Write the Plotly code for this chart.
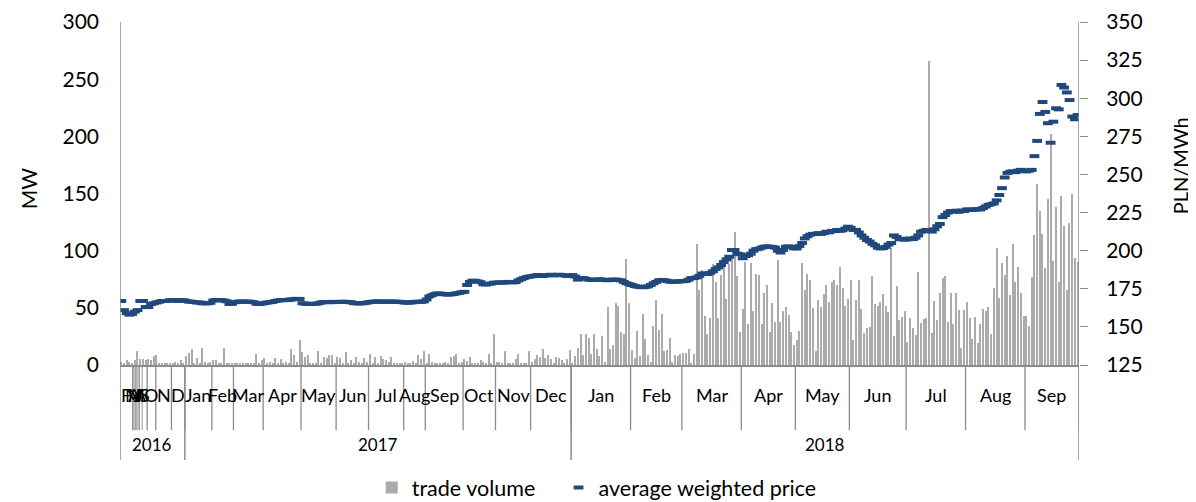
import plotly.graph_objects as go

# ---------------- data ----------------
years = ["2016", "2017", "2018"]

months_2016 = ["F", "M", "A", "M", "J", "J", "A", "S", "O", "N", "D"]
month_slots_2016 = [4.7, 0.5, 0.5, 0.5, 0.5, 0.5, 1.0, 1.85, 3.2, 5.8, 4.95]
vol_2016 = [3, 2, 4, 3, 2, 4, 12, 5, 5, 4, 5, 4, 8, 9, 2, 2, 1, 2, 1, 2, 3, 2, 4, 2]
price_2016 = [167, 161, 159, 158, 158.5, 160, 161, 167, 167, 163, 163, 165, 165.5, 166,
              166.5, 167, 167, 167, 167.5, 167.5, 167.5, 167, 167.5, 167.5]

months_2017 = ["Jan", "Feb", "Mar", "Apr", "May", "Jun", "Jul", "Aug", "Sep", "Oct", "Nov", "Dec"]
vol_2017 = [
    [8, 10.5, 14, 2, 6, 2, 15, 3, 2, 3],
    [4, 4, 2, 1, 15, 1, 1.5, 2],
    [1, 1, 1, 2, 1.5, 2, 2, 1, 10, 2, 4],
    [6, 1, 3, 1, 6, 2, 5, 1, 3, 1, 14, 9, 3, 22],
    [11, 7, 9, 1, 1, 1, 12, 1, 7, 6, 9, 9, 2],
    [7, 6, 1, 11, 2, 4, 1, 7, 3, 2, 6, 3],
    [10, 2, 7, 1, 8, 5, 4, 3, 7, 1.5, 1, 2, 1],
    [3, 1.5, 1, 3.8, 1, 9, 5, 12],
    [1, 10, 3, 1, 2, 1, 2, 3, 1.5, 7, 8, 10, 1, 2.3],
    [5, 3.5, 7, 1, 1.2, 1.2, 4, 3, 1, 10, 1.2, 27],
    [3, 3, 1, 12, 1.2, 1.2, 1, 5, 10, 1.8, 1, 1.8, 12],
    [2.3, 5, 8.7, 7.3, 14, 5.8, 9, 5, 1.2, 7, 5.8, 4.4, 1.2, 5, 13],
]
price_2017 = [
    [167, 166.6, 166.5, 166.3, 166, 166, 165.5, 165.5, 165.5, 165.8],
    [167.3, 167.6, 167.6, 167.5, 167.3, 166.8, 165, 165.2],
    [166.2, 166.5, 166.6, 166.6, 166.5, 166.6, 166.4, 166.2, 165.2, 165, 165.3],
    [165.6, 166, 166.2, 166.4, 167, 167.3, 167.5, 167.6, 167.6, 167.8, 168, 168.2, 168.4, 168.3],
    [165.5, 165.3, 165, 165, 165.1, 165.2, 165.5, 166, 166.3, 166.3, 166.2, 166.4, 166.3],
    [166.3, 166.4, 166.5, 166.4, 166.3, 166.2, 165.6, 165.5, 165.4, 165.5, 165.6, 166],
    [166.3, 166.5, 166.6, 166.7, 166.6, 166.5, 166.6, 166.6, 166.5, 166.6, 166.5, 166.4, 166.2],
    [166, 165.9, 166, 166.2, 166.4, 166.5, 166.5, 166.7],
    [168, 170, 170.8, 171.5, 172, 171.8, 171.5, 171.4, 171.2, 171.4, 171.6, 172, 172.3, 172.7],
    [173, 177.5, 179.5, 180.3, 180.2, 179.8, 179.3, 178, 177.8, 178.2, 178.5, 179],
    [179, 179.2, 179, 179.2, 179.5, 179.4, 179.2, 179.4, 180.5, 181.3, 182, 182.6, 183],
    [183.2, 183.6, 184, 183.6, 183.4, 183.8, 184, 184.2, 183.8, 184, 184.2, 184, 183.8, 183.5, 183.5],
]

months_2018 = ["Jan", "Feb", "Mar", "Apr", "May", "Jun", "Jul", "Aug", "Sep"]
vol_2018 = [
    [1.5, 8, 15, 27, 8.7, 27, 24, 10, 27, 14, 8, 25, 3, 51, 14, 17.5, 54, 52, 29, 27, 93, 54],
    [13, 6, 30, 8, 45, 23, 8.7, 3, 34, 57, 31, 45, 12, 13, 24, 3, 8.7, 8, 10],
    [10.5, 10.8, 14, 1, 10, 106, 66, 83, 43, 27, 41, 88, 73, 41, 79, 93, 58, 88, 94, 116, 78, 29],
    [49, 90, 36, 89, 47, 80, 79, 36, 63, 70, 29, 54, 38, 92, 38, 47, 51, 44, 29, 17.5],
    [22, 30, 89, 66, 80, 74, 50, 12, 57, 51, 62, 70, 55, 73, 74, 70, 86, 67, 52, 58],
    [74, 22, 57, 74, 49, 28, 32, 33, 78, 53, 52, 55, 62, 52, 46, 102, 25, 69, 39, 42, 47],
    [20, 41, 32, 26, 81, 37, 40, 41, 266, 28, 56, 39, 63, 76, 78, 38, 63, 36, 63, 48, 15, 48],
    [55, 41, 23, 42, 19, 36, 49, 47, 51, 27, 67, 102, 59, 89, 79, 95, 61, 106, 73, 86, 63, 43],
    [43, 34, 77, 114, 158, 135, 115, 85, 145, 202, 91, 138, 73, 148, 122, 66, 124, 150, 94, 90],
]
price_2018 = [
    [184, 183, 181, 182, 182, 181.5, 181, 180.8, 180.8, 181, 181.2, 181, 180.8, 180.6, 180.8, 181,
     181, 180.8, 180.5, 179.5, 178.6, 178],
    [177.5, 176.8, 176.4, 176.2, 176, 176.3, 176.6, 177.5, 178.6, 179.5, 180.5, 180.8, 180.6, 180.2,
     179.7, 179.6, 179.8, 179.7, 180],
    [180, 180.2, 181, 182, 182, 182.5, 183.5, 185, 185, 184.7, 185.5, 186.5, 188, 189, 190.6, 192.5,
     194.3, 196, 200.4, 200.4, 198, 197.6],
    [195, 196.5, 197, 198, 200, 201, 201.3, 202, 202.6, 202.8, 202.6, 202.4, 202, 200, 198.8, 200.5,
     202.6, 202.8, 202.4, 201.5],
    [201.5, 203, 205, 208, 209.5, 210.5, 211, 211, 211.5, 211, 211.5, 212.4, 212, 213, 212.8, 213.6,
     213, 213.4, 214.5, 215.7],
    [215, 213.6, 213.6, 212, 210, 208.5, 207, 206, 204.5, 203.5, 202, 201.5, 201.7, 202.5, 204, 205,
     210, 209, 207.5, 207.8, 207.2],
    [207.5, 208, 207.6, 208.5, 210, 212.4, 213, 213.6, 213, 212.5, 214, 216, 217.5, 222, 223.4, 225,
     226, 225.7, 226.2, 225.5, 226.3, 226],
    [227, 227, 226.7, 227, 227.3, 227, 228, 229, 230, 230.5, 231, 233, 236.5, 241, 248, 251, 251.8,
     252, 251.5, 252.5, 253, 252.5],
    [252, 252.5, 253, 262, 272, 289.7, 297.5, 291, 283.6, 270.8, 284.6, 293.4, 292.7, 308.7, 307,
     303.8, 298.8, 288, 286.2, 289],
]

# ---------------- assemble ----------------
volume = vol_2016 + [v for m in vol_2017 for v in m] + [v for m in vol_2018 for v in m]
price = price_2016 + [v for m in price_2017 for v in m] + [v for m in price_2018 for v in m]
n = len(volume)
assert len(price) == n
x = list(range(n))

month_labels = months_2016 + months_2017 + months_2018
month_spans = month_slots_2016 + [len(m) for m in vol_2017] + [len(m) for m in vol_2018]
year_spans = [sum(month_slots_2016), sum(len(m) for m in vol_2017), sum(len(m) for m in vol_2018)]

AX = "#8c8c8c"
FONT = "Lato"
MONTH_DIV_BOTTOM = -0.19
YEAR_DIV_BOTTOM = -0.277
MONTH_LABEL_Y = -0.088
YEAR_LABEL_Y = -0.233

fig = go.Figure()
fig.add_trace(go.Bar(
    x=x, y=volume, name="trade volume", width=0.42,
    marker=dict(color="#ababab", line=dict(width=0)),
    yaxis="y", legend="legend",
))
fig.add_trace(go.Scatter(
    x=x, y=price, name="average weighted price", mode="markers",
    marker=dict(symbol="line-ew", size=7, color="#1F497D",
                line=dict(color="#1F497D", width=4)),
    yaxis="y2", legend="legend2",
))

shapes = []
annotations = []

# month dividers and labels
start = 0.0
for lab, span in zip(month_labels, month_spans):
    end = start + span
    w = 1.3 if span >= 1.5 else 0.9
    shapes.append(dict(type="line", xref="x", yref="paper", x0=end - 0.5, x1=end - 0.5,
                       y0=0, y1=MONTH_DIV_BOTTOM, line=dict(color=AX, width=w)))
    annotations.append(dict(xref="x", yref="paper", x=start + span / 2 - 0.5, y=MONTH_LABEL_Y,
                            xanchor="center", yanchor="middle",
                            text=lab, showarrow=False, font=dict(size=18, color="#000", family=FONT)))
    start = end

# year dividers and labels
start = 0.0
shapes.append(dict(type="line", xref="x", yref="paper", x0=-0.5, x1=-0.5, y0=1, y1=YEAR_DIV_BOTTOM,
                   line=dict(color=AX, width=1.5)))
for lab, span in zip(years, year_spans):
    end = start + span
    top = 1 if end >= n - 0.01 else 0
    shapes.append(dict(type="line", xref="x", yref="paper", x0=end - 0.5, x1=end - 0.5,
                       y0=top, y1=YEAR_DIV_BOTTOM, line=dict(color=AX, width=1.5)))
    annotations.append(dict(xref="x", yref="paper", x=start + span / 2 - 0.5, y=YEAR_LABEL_Y,
                            xanchor="center", yanchor="middle",
                            text=lab, showarrow=False, font=dict(size=17, color="#000", family=FONT)))
    start = end

# axis titles
annotations.append(dict(xref="paper", yref="paper", x=-0.096, y=0.515, text="MW", textangle=-90,
                        xanchor="center", yanchor="middle",
                        showarrow=False, font=dict(size=21, color="#000", family=FONT)))
annotations.append(dict(xref="paper", yref="paper", x=1.1055, y=0.58, text="PLN/MWh", textangle=-90,
                        xanchor="center", yanchor="middle",
                        showarrow=False, font=dict(size=20, color="#000", family=FONT)))

legend_style = dict(orientation="h", xanchor="left", y=-0.357, yanchor="middle",
                    font=dict(size=21.5, family=FONT, color="#000"), bgcolor="rgba(0,0,0,0)")

# the page body adds an 8px margin, so the figure is 8px smaller and margins shifted by 8px
fig.update_layout(
    width=1188, height=494,
    margin=dict(l=112, r=117, t=14, b=137, autoexpand=False),
    paper_bgcolor="white", plot_bgcolor="white",
    font=dict(family=FONT, color="#000"),
    bargap=0,
    showlegend=True,
    legend=dict(x=0.2625, **legend_style),
    legend2=dict(x=0.4573, **legend_style),
    xaxis=dict(range=[-0.5, n - 0.5], showticklabels=False, ticks="", showgrid=False,
               zeroline=False, showline=True, linecolor=AX, linewidth=1.5),
    yaxis=dict(range=[0, 300], dtick=50, showgrid=False, zeroline=False, showline=False,
               ticks="", ticklabelstandoff=20, tickfont=dict(size=21, family=FONT, color="#000")),
    yaxis2=dict(range=[125, 350], dtick=25, overlaying="y", side="right", showgrid=False,
                zeroline=False, showline=False, ticks="outside", ticklen=8, tickcolor=AX,
                tickwidth=1.3, ticklabelstandoff=14,
                tickfont=dict(size=21, family=FONT, color="#000")),
    shapes=shapes,
    annotations=annotations,
)

fig.write_html("out.html")
